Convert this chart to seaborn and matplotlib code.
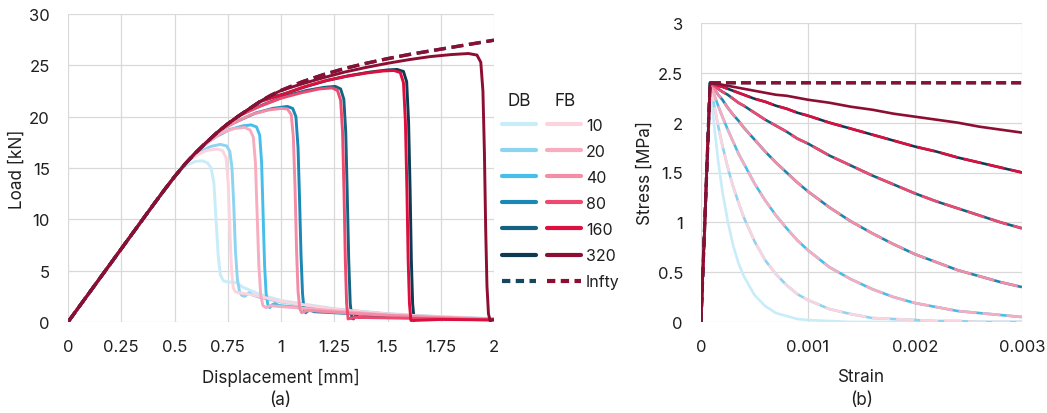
import matplotlib
matplotlib.use("Agg")
import matplotlib.pyplot as plt
from matplotlib.lines import Line2D
import pandas as pd
import seaborn as sns

# ---------------- (a) Load - displacement data ----------------
ENV_X = [0, 0.1, 0.2, 0.3, 0.4, 0.45, 0.5, 0.55, 0.6, 0.65, 0.7, 0.75, 0.8, 0.85,
         0.9, 0.95, 1.0, 1.1, 1.2, 1.3, 1.4, 1.5, 1.6, 1.7, 1.8, 1.9, 2.0]
ENV_Y = [0, 2.85, 5.7, 8.55, 11.4, 12.8, 14.15, 15.4, 16.5, 17.5, 18.45, 19.3, 20.05, 20.75,
         21.45, 22.05, 22.55, 23.4, 24.1, 24.7, 25.2, 25.65, 26.05, 26.4, 26.75, 27.1, 27.45]

DB10_X = [0.52, 0.56, 0.60, 0.63, 0.655, 0.672, 0.685, 0.695, 0.705, 0.715, 0.73, 0.75, 0.79, 0.82, 0.9, 1.0, 1.25, 1.5, 1.75, 2.0]
DB10_Y = [14.65, 15.3, 15.65, 15.7, 15.5, 15.0, 13.5, 10.0, 6.5, 4.6, 4.0, 3.9, 3.85, 3.4, 2.7, 2.1, 1.3, 0.82, 0.53, 0.33]
FB10_X = [0.56, 0.6, 0.65, 0.7, 0.725, 0.742, 0.752, 0.76, 0.768, 0.776, 0.785, 0.80, 0.85, 0.9, 1.0, 1.25, 1.5, 1.75, 2.0]
FB10_Y = [15.62, 16.2, 16.7, 16.85, 16.7, 16.0, 13.5, 9.0, 5.0, 3.3, 2.95, 2.85, 2.7, 2.5, 2.0, 1.25, 0.78, 0.5, 0.31]
DB20_X = [0.58, 0.62, 0.67, 0.715, 0.745, 0.76, 0.77, 0.778, 0.786, 0.795, 0.805, 0.815, 0.83, 0.85, 0.87, 0.9, 1.0, 1.25, 1.5, 1.75, 2.0]
DB20_Y = [16.06, 16.6, 17.1, 17.3, 17.15, 16.6, 15.0, 11.5, 7.0, 4.2, 3.0, 2.6, 2.5, 2.85, 2.6, 2.4, 1.95, 1.25, 0.78, 0.48, 0.3]
FB20_X = [0.62, 0.67, 0.72, 0.78, 0.83, 0.855, 0.87, 0.88, 0.888, 0.896, 0.905, 0.915, 0.93, 0.95, 0.97, 1.0, 1.25, 1.5, 1.75, 2.0]
FB20_Y = [16.9, 17.7, 18.4, 18.85, 18.95, 18.7, 18.0, 15.5, 10.5, 5.5, 2.6, 1.6, 1.4, 1.6, 1.55, 1.5, 1.1, 0.7, 0.45, 0.28]
DB40_X = [0.64, 0.7, 0.76, 0.82, 0.86, 0.885, 0.9, 0.909, 0.916, 0.923, 0.93, 0.938, 0.947, 0.96, 0.972, 0.99, 1.1, 1.25, 1.5, 1.75, 2.0]
DB40_Y = [17.3, 18.1, 18.75, 19.1, 19.2, 19.0, 18.2, 15.5, 10.5, 5.5, 2.8, 1.7, 1.4, 1.7, 1.8, 1.6, 1.4, 1.15, 0.72, 0.46, 0.29]
FB40_X = [0.7, 0.78, 0.86, 0.94, 1.0, 1.03, 1.048, 1.058, 1.066, 1.073, 1.08, 1.088, 1.097, 1.12, 1.15, 1.25, 1.5, 1.75, 2.0]
FB40_Y = [18.45, 19.4, 20.2, 20.65, 20.8, 20.75, 20.2, 18.0, 13.0, 7.0, 3.0, 1.3, 0.9, 1.1, 1.1, 0.95, 0.65, 0.42, 0.27]
DB80_X = [0.72, 0.8, 0.88, 0.96, 1.03, 1.055, 1.07, 1.08, 1.087, 1.094, 1.101, 1.108, 1.116, 1.133, 1.155, 1.25, 1.5, 1.75, 2.0]
DB80_Y = [18.79, 19.6, 20.35, 20.8, 21.0, 20.8, 20.0, 17.0, 12.0, 6.5, 2.8, 1.2, 0.9, 1.2, 1.0, 0.9, 0.6, 0.4, 0.26]
FB80_X = [0.8, 0.9, 1.0, 1.1, 1.18, 1.24, 1.265, 1.28, 1.289, 1.296, 1.302, 1.308, 1.315, 1.325, 1.35, 1.5, 1.75, 2.0]
FB80_Y = [20.05, 21.0, 21.8, 22.35, 22.7, 22.8, 22.55, 21.6, 18.5, 12.5, 6.0, 1.8, 0.3, 0.35, 0.45, 0.4, 0.3, 0.2]
DB160_X = [0.82, 0.92, 1.02, 1.12, 1.2, 1.255, 1.28, 1.295, 1.304, 1.311, 1.318, 1.325, 1.333, 1.34, 1.352, 1.366, 1.5, 1.75, 2.0]
DB160_Y = [20.33, 21.2, 22.0, 22.55, 22.85, 22.95, 22.7, 21.7, 18.5, 12.5, 6.0, 1.8, 0.35, 0.3, 0.65, 0.45, 0.5, 0.38, 0.28]
FB160_X = [0.9, 1.0, 1.1, 1.2, 1.3, 1.4, 1.48, 1.53, 1.56, 1.575, 1.584, 1.591, 1.597, 1.603, 1.61, 1.62, 1.75, 2.0]
FB160_Y = [21.45, 22.1, 22.85, 23.45, 23.9, 24.25, 24.45, 24.5, 24.3, 23.3, 19.5, 13.0, 6.0, 1.8, 0.15, 0.15, 0.25, 0.2]
DB320_X = [0.92, 1.02, 1.12, 1.22, 1.32, 1.42, 1.5, 1.545, 1.575, 1.59, 1.599, 1.606, 1.612, 1.618, 1.625, 1.632, 1.642, 1.75, 2.0]
DB320_Y = [21.67, 22.25, 22.95, 23.55, 24.0, 24.35, 24.55, 24.6, 24.4, 23.4, 19.5, 13.0, 6.0, 1.8, 0.15, 0.5, 0.3, 0.4, 0.25]
FB320_X = [1.0, 1.1, 1.2, 1.3, 1.4, 1.5, 1.6, 1.7, 1.8, 1.88, 1.92, 1.938, 1.948, 1.955, 1.961, 1.967, 1.974, 1.982, 1.99, 2.0]
FB320_Y = [22.55, 23.2, 23.8, 24.35, 24.8, 25.2, 25.55, 25.85, 26.05, 26.15, 26.0, 25.3, 22.5, 16.5, 9.0, 3.5, 0.8, 0.1, 0.2, 0.25]

# ---------------- (b) Stress - strain data ----------------
STRAIN = [0, 0.000085, 0.00012, 0.00016, 0.0002, 0.00025, 0.0003, 0.00035, 0.0004, 0.0005,
          0.0006, 0.0007, 0.0008, 0.0009, 0.001, 0.0012, 0.0014, 0.0016, 0.0018, 0.002,
          0.0022, 0.0024, 0.0026, 0.0028, 0.003]
STRESS_DB10 = [0, 2.4, 2.00, 1.62, 1.31, 1.01, 0.77, 0.59, 0.46, 0.27, 0.16, 0.09, 0.06, 0.03,
               0.02, 0.01, 0.0, 0.0, 0.0, 0.0, 0.0, 0.0, 0.0, 0.0, 0.0]
STRESS_DB20 = [0, 2.4, 2.19, 1.97, 1.77, 1.55, 1.36, 1.20, 1.05, 0.81, 0.62, 0.48, 0.37, 0.28,
               0.22, 0.13, 0.08, 0.04, 0.03, 0.02, 0.01, 0.01, 0.0, 0.0, 0.0]
STRESS_DB40 = [0, 2.4, 2.29, 2.17, 2.06, 1.93, 1.81, 1.69, 1.59, 1.39, 1.22, 1.07, 0.94, 0.82,
               0.72, 0.55, 0.43, 0.33, 0.25, 0.19, 0.15, 0.11, 0.09, 0.07, 0.05]
STRESS_DB80 = [0, 2.4, 2.35, 2.28, 2.23, 2.15, 2.08, 2.02, 1.95, 1.83, 1.71, 1.60, 1.50, 1.40,
               1.31, 1.15, 1.01, 0.89, 0.78, 0.68, 0.60, 0.52, 0.46, 0.40, 0.35]
STRESS_DB160 = [0, 2.4, 2.37, 2.34, 2.31, 2.28, 2.24, 2.20, 2.17, 2.10, 2.03, 1.97, 1.91, 1.84,
                1.79, 1.67, 1.57, 1.47, 1.38, 1.29, 1.21, 1.14, 1.07, 1.00, 0.94]
STRESS_DB320 = [0, 2.4, 2.39, 2.37, 2.36, 2.34, 2.32, 2.30, 2.28, 2.24, 2.21, 2.17, 2.14, 2.10,
                2.07, 2.00, 1.94, 1.88, 1.82, 1.76, 1.71, 1.65, 1.60, 1.55, 1.50]
STRESS_FB10 = list(STRESS_DB20)
STRESS_FB20 = list(STRESS_DB40)
STRESS_FB40 = list(STRESS_DB80)
STRESS_FB80 = list(STRESS_DB160)
STRESS_FB160 = list(STRESS_DB320)
STRESS_FB320 = [0, 2.4, 2.39, 2.39, 2.38, 2.37, 2.36, 2.35, 2.34, 2.32, 2.30, 2.28, 2.27, 2.25,
                2.23, 2.20, 2.16, 2.13, 2.09, 2.06, 2.03, 2.00, 1.96, 1.93, 1.90]
INF_STRAIN = [0, 0.000085, 0.003]
INF_STRESS = [0, 2.4, 2.4]

LABELS = ["10", "20", "40", "80", "160", "320", "Infty"]
X_TICKS_A = [0, 0.25, 0.5, 0.75, 1, 1.25, 1.5, 1.75, 2]
X_TICKLABELS_A = ["0", "0.25", "0.5", "0.75", "1", "1.25", "1.5", "1.75", "2"]
Y_TICKS_A = [0, 5, 10, 15, 20, 25, 30]
X_TICKS_B = [0, 0.001, 0.002, 0.003]
X_TICKLABELS_B = ["0", "0.001", "0.002", "0.003"]
Y_TICKS_B = [0, 0.5, 1, 1.5, 2, 2.5, 3]
Y_TICKLABELS_B = ["0", "0.5", "1", "1.5", "2", "2.5", "3"]

# ---------------- styles ----------------
DB_COLORS = ["#c9ecf9", "#8dd4f1", "#45bfea", "#1a87b4", "#15617f", "#0e3b53", "#16475e"]
FB_COLORS = ["#fcd4de", "#f7adbf", "#f38ca5", "#ec4a70", "#dc0f3e", "#8c0e32", "#8c0e32"]
GRID = "#d9d9d9"
TXT = "#1f1f1f"
TICK_FS = 12
LABEL_FS = 12.3

sns.set_theme(style="whitegrid")
plt.rcParams["font.family"] = ["Inter", "DejaVu Sans"]
plt.rcParams["axes.edgecolor"] = GRID
plt.rcParams["grid.color"] = GRID
plt.rcParams["grid.linewidth"] = 0.9

fig = plt.figure(figsize=(10.47, 4.14), dpi=100)
W, H = 1047, 414
axA = fig.add_axes([68 / W, 1 - 323 / H, 426 / W, 308 / H])
axB = fig.add_axes([701 / W, 1 - 323 / H, 321 / W, 299 / H])


def with_env(tx, ty):
    xs = [x for x in ENV_X if x < tx[0]] + list(tx)
    ys = [y for x, y in zip(ENV_X, ENV_Y) if x < tx[0]] + list(ty)
    return pd.DataFrame({"x": xs, "y": ys})


def line(ax, df, color, lw, ls="-", z=2):
    sns.lineplot(data=df, x="x", y="y", ax=ax, color=color, lw=lw, linestyle=ls,
                 sort=False, estimator=None, zorder=z, solid_capstyle="butt",
                 dash_capstyle="butt")


# ---- panel (a)
DB_A = [(DB10_X, DB10_Y), (DB20_X, DB20_Y), (DB40_X, DB40_Y), (DB80_X, DB80_Y),
        (DB160_X, DB160_Y), (DB320_X, DB320_Y)]
FB_A = [(FB10_X, FB10_Y), (FB20_X, FB20_Y), (FB40_X, FB40_Y), (FB80_X, FB80_Y),
        (FB160_X, FB160_Y), (FB320_X, FB320_Y)]
LW_A = 2.1
DASH_A = (0, (3.6, 1.7))
for i, (tx, ty) in enumerate(DB_A):
    line(axA, with_env(tx, ty), DB_COLORS[i], LW_A, z=2 + i * 0.1)
for i, (tx, ty) in enumerate(FB_A):
    line(axA, with_env(tx, ty), FB_COLORS[i], LW_A, z=3 + i * 0.1)
env_df = pd.DataFrame({"x": ENV_X, "y": ENV_Y})
line(axA, env_df, DB_COLORS[6], 2.4, DASH_A, z=4)
line(axA, env_df, FB_COLORS[6], 2.4, DASH_A, z=4.1)

# ---- panel (b)
DB_B = [STRESS_DB10, STRESS_DB20, STRESS_DB40, STRESS_DB80, STRESS_DB160, STRESS_DB320]
FB_B = [STRESS_FB10, STRESS_FB20, STRESS_FB40, STRESS_FB80, STRESS_FB160, STRESS_FB320]
LW_B = 1.9
for i, s in enumerate(DB_B):
    line(axB, pd.DataFrame({"x": STRAIN, "y": s}), DB_COLORS[i], LW_B, z=2 + i * 0.1)
for i, s in enumerate(FB_B):
    ls = "-" if i == 5 else (0, (6.8, 2.3))
    line(axB, pd.DataFrame({"x": STRAIN, "y": s}), FB_COLORS[i], LW_B, ls, z=3 + i * 0.1)
inf_df = pd.DataFrame({"x": INF_STRAIN, "y": INF_STRESS})
line(axB, inf_df, DB_COLORS[6], 2.3, (0, (3.1, 1.6)), z=4)
line(axB, inf_df, FB_COLORS[6], 2.3, (0, (3.1, 1.6)), z=4.1)

# ---- axes cosmetics
for ax in (axA, axB):
    ax.set_facecolor("white")
    for sp in ax.spines.values():
        sp.set_visible(False)
    ax.grid(True, color=GRID, lw=0.9)
    ax.tick_params(length=0, labelsize=TICK_FS, colors=TXT)

axA.set_xlim(0, 2)
axA.set_ylim(0, 30)
axA.set_xticks(X_TICKS_A)
axA.set_xticklabels(X_TICKLABELS_A)
axA.set_yticks(Y_TICKS_A)
axA.tick_params(axis="x", pad=12)
axA.tick_params(axis="y", pad=13)
axA.set_xlabel("Displacement [mm]", fontsize=LABEL_FS, color=TXT)
axA.set_ylabel("Load [kN]", fontsize=LABEL_FS, color=TXT)
axA.xaxis.set_label_coords(0.5, -0.15)
axA.yaxis.set_label_coords(-0.100, 0.5)

axB.set_xlim(0, 0.003)
axB.set_ylim(0, 3)
axB.set_xticks(X_TICKS_B)
axB.set_xticklabels(X_TICKLABELS_B)
axB.set_yticks(Y_TICKS_B)
axB.set_yticklabels(Y_TICKLABELS_B)
axB.tick_params(axis="x", pad=12)
axB.tick_params(axis="y", pad=13)
axB.set_xlabel("Strain", fontsize=LABEL_FS, color=TXT)
axB.set_ylabel("Stress [MPa]", fontsize=LABEL_FS, color=TXT)
axB.xaxis.set_label_coords(0.5, -0.155)
axB.yaxis.set_label_coords(-0.148, 0.5)

fig.text(280 / W, 1 - 401 / H, "(a)", ha="center", va="center", fontsize=LABEL_FS, color=TXT)
fig.text(862 / W, 1 - 401 / H, "(b)", ha="center", va="center", fontsize=LABEL_FS, color=TXT)

# ---- legend (two handle columns: DB and FB)
handles, labels = [], []
for i in range(7):
    handles.append(Line2D([], [], color=DB_COLORS[i], lw=3.0,
                          linestyle="-" if i < 6 else (0, (2.0, 1.3))))
    labels.append("")
for i in range(7):
    handles.append(Line2D([], [], color=FB_COLORS[i], lw=3.0,
                          linestyle="-" if i < 6 else (0, (2.0, 1.3))))
    labels.append(LABELS[i])
fig.legend(handles, labels, ncol=2, loc="upper left",
           bbox_to_anchor=(502 / W, 1 - 119 / H), frameon=False, fontsize=11.5,
           handlelength=2.15, handletextpad=0.3, columnspacing=0.35,
           labelspacing=0.69, borderpad=0, borderaxespad=0, labelcolor=TXT)
fig.text(519 / W, 1 - 102 / H, "DB", ha="center", va="center", fontsize=LABEL_FS, color=TXT)
fig.text(565 / W, 1 - 102 / H, "FB", ha="center", va="center", fontsize=LABEL_FS, color=TXT)

fig.savefig("out.png", dpi=100, facecolor="white")
